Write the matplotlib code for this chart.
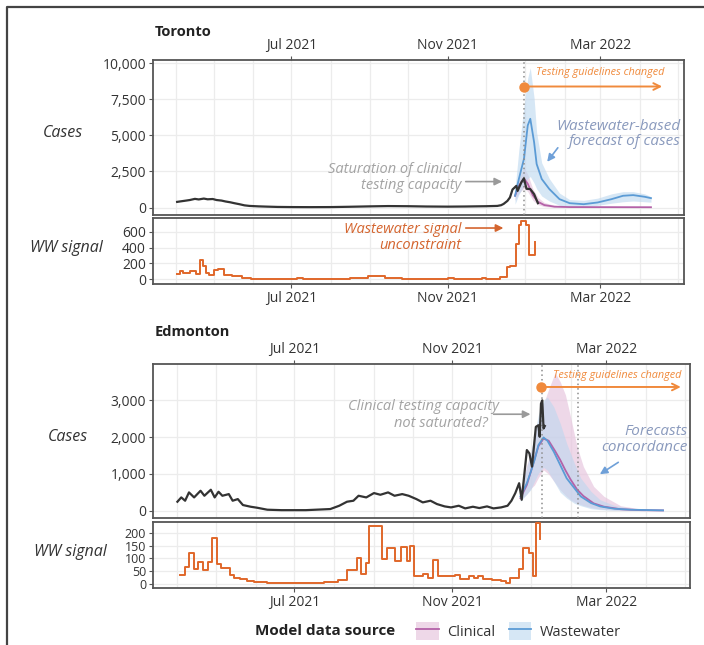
import numpy as np
import pandas as pd
import matplotlib
matplotlib.use('Agg')
import matplotlib.pyplot as plt
import matplotlib.dates as mdates
from matplotlib.patches import Patch
from matplotlib.lines import Line2D
from matplotlib.legend_handler import HandlerTuple
from matplotlib.ticker import FuncFormatter

plt.rcParams['font.family'] = ['Open Sans', 'DejaVu Sans']

# ---------------- Toronto data ----------------
tor_case_dates = ['2021-04-02', '2021-04-05', '2021-04-09', '2021-04-12', '2021-04-16', '2021-04-19',
                  '2021-04-23', '2021-04-26', '2021-04-30', '2021-05-03', '2021-05-07', '2021-05-10',
                  '2021-05-14', '2021-05-17', '2021-05-21', '2021-05-25', '2021-05-29', '2021-06-05',
                  '2021-06-12', '2021-06-20', '2021-07-01', '2021-07-15', '2021-08-01', '2021-08-15',
                  '2021-09-01', '2021-09-15', '2021-10-01', '2021-10-15', '2021-11-01', '2021-11-15',
                  '2021-12-01', '2021-12-10', '2021-12-13', '2021-12-15', '2021-12-18', '2021-12-20',
                  '2021-12-22', '2021-12-25', '2021-12-26', '2021-12-29', '2021-12-31', '2022-01-02',
                  '2022-01-05', '2022-01-08', '2022-01-11']
tor_cases = [390, 430, 480, 520, 600, 560, 620, 570, 590, 520, 480, 420, 360, 300, 230, 150, 110, 80,
             60, 40, 30, 25, 30, 50, 80, 100, 90, 70, 60, 70, 90, 110, 160, 250, 460, 700,
             1250, 1500, 1150, 1750, 2020, 1300, 1280, 930, 300]

tor_clin_dates = ['2021-12-24', '2021-12-27', '2021-12-31', '2022-01-03', '2022-01-07', '2022-01-11',
                  '2022-01-16', '2022-01-24', '2022-02-05', '2022-04-10']
tor_clin = [815, 1510, 2020, 1650, 850, 400, 170, 60, 30, 20]
tor_clin_lo = [500, 1000, 1350, 1100, 500, 200, 60, 10, 0, 0]
tor_clin_hi = [1100, 2000, 2800, 2300, 1300, 700, 350, 150, 80, 60]

tor_ww_dates = ['2021-12-24', '2021-12-27', '2021-12-31', '2022-01-03', '2022-01-05', '2022-01-08',
                '2022-01-10', '2022-01-14', '2022-01-20', '2022-01-28', '2022-02-05', '2022-02-16',
                '2022-02-27', '2022-03-10', '2022-03-19', '2022-03-27', '2022-04-05', '2022-04-10']
tor_ww = [815, 1980, 3370, 5700, 6160, 4535, 3020, 1980, 1280, 580, 300, 230, 350, 580, 815, 860, 745, 650]
tor_ww_hi = [1280, 4000, 7000, 9000, 9700, 7600, 5200, 3100, 2000, 1000, 550, 500, 650, 950, 1100, 1100, 950, 750]
tor_ww_lo = [230, 900, 1500, 2000, 2150, 1700, 1300, 800, 450, 150, 50, 60, 150, 300, 400, 450, 400, 370]

tor_sig_dates = ['2021-04-02', '2021-04-04', '2021-04-07', '2021-04-12', '2021-04-17', '2021-04-20',
                 '2021-04-22', '2021-04-25', '2021-04-27', '2021-05-01', '2021-05-04', '2021-05-09',
                 '2021-05-15', '2021-05-23', '2021-05-30', '2021-06-07', '2021-07-05', '2021-07-10',
                 '2021-08-16', '2021-08-30', '2021-09-13', '2021-09-26', '2021-11-01', '2021-11-06',
                 '2021-11-28', '2021-12-01', '2021-12-12', '2021-12-18', '2021-12-20', '2021-12-25',
                 '2021-12-27', '2021-12-29', '2022-01-02', '2022-01-04', '2022-01-09']
tor_sig = [68, 102, 75, 105, 70, 248, 164, 81, 60, 122, 135, 51, 39, 18, 10, 4, 14, 4,
           20, 40, 14, 7, 14, 7, 22, 7, 28, 160, 170, 445, 688, 738, 690, 303, 466]

# ---------------- Edmonton data ----------------
edm_case_dates = ['2021-04-01', '2021-04-04', '2021-04-07', '2021-04-10', '2021-04-14', '2021-04-19',
                  '2021-04-22', '2021-04-27', '2021-04-30', '2021-05-03', '2021-05-06', '2021-05-11',
                  '2021-05-14', '2021-05-18', '2021-05-22', '2021-05-28', '2021-06-02', '2021-06-10',
                  '2021-06-21', '2021-07-10', '2021-07-29', '2021-08-05', '2021-08-11', '2021-08-16',
                  '2021-08-20', '2021-08-26', '2021-09-01', '2021-09-06', '2021-09-12', '2021-09-17',
                  '2021-09-23', '2021-09-28', '2021-10-04', '2021-10-09', '2021-10-15', '2021-10-20',
                  '2021-10-26', '2021-10-31', '2021-11-06', '2021-11-11', '2021-11-17', '2021-11-22',
                  '2021-11-28', '2021-12-03', '2021-12-09', '2021-12-14', '2021-12-17', '2021-12-20',
                  '2021-12-23', '2021-12-25', '2021-12-29', '2021-12-31', '2022-01-02', '2022-01-05',
                  '2022-01-07', '2022-01-08', '2022-01-09', '2022-01-10', '2022-01-11', '2022-01-12']
edm_cases = [244, 361, 271, 497, 361, 542, 406, 569, 361, 515, 406, 451, 271, 316, 154, 108, 81, 27,
             15, 15, 45, 135, 244, 271, 406, 361, 479, 433, 497, 406, 451, 406, 316, 226, 271, 181,
             117, 90, 135, 63, 108, 72, 117, 63, 90, 135, 271, 477, 747, 297, 1647, 1557, 1197, 2277,
             2322, 2007, 2907, 2997, 2232, 2300]

edm_clin_dates = ['2021-12-24', '2021-12-29', '2022-01-01', '2022-01-04', '2022-01-07', '2022-01-11',
                  '2022-01-15', '2022-01-20', '2022-01-24', '2022-01-28', '2022-02-01', '2022-02-06',
                  '2022-02-11', '2022-02-19', '2022-02-27', '2022-03-12', '2022-03-28', '2022-04-14']
edm_clin = [342, 700, 1050, 1400, 1750, 1960, 1900, 1620, 1377, 1100, 850, 580, 400, 200, 110, 40, 15, 8]
edm_clin_hi = [567, 1250, 1557, 2050, 2450, 2907, 3300, 3750, 3500, 3150, 2550, 1750, 1200, 660, 390, 135, 45, 20]
edm_clin_lo = [297, 450, 600, 700, 900, 1107, 990, 760, 567, 420, 300, 200, 140, 70, 35, 10, 3, 2]

edm_ww_dates = ['2021-12-24', '2021-12-29', '2022-01-01', '2022-01-04', '2022-01-07', '2022-01-11',
                '2022-01-14', '2022-01-19', '2022-01-24', '2022-01-29', '2022-02-04', '2022-02-09',
                '2022-02-17', '2022-02-24', '2022-03-07', '2022-03-20', '2022-04-14']
edm_ww = [387, 747, 1050, 1377, 1782, 1990, 1900, 1600, 1240, 880, 612, 387, 207, 117, 54, 27, 9]
edm_ww_hi = [522, 1200, 1557, 2100, 2600, 3000, 3087, 2817, 2367, 1827, 1287, 882, 522, 297, 144, 63, 20]
edm_ww_lo = [252, 450, 567, 800, 1017, 1179, 1100, 800, 500, 342, 200, 135, 54, 30, 10, 5, 2]

edm_sig_dates = ['2021-04-03', '2021-04-07', '2021-04-10', '2021-04-14', '2021-04-17', '2021-04-21',
                 '2021-04-25', '2021-04-28', '2021-05-02', '2021-05-05', '2021-05-09', '2021-05-12',
                 '2021-05-15', '2021-05-20', '2021-05-25', '2021-05-31', '2021-06-10', '2021-06-30',
                 '2021-07-05', '2021-07-24', '2021-07-30', '2021-08-04', '2021-08-11', '2021-08-19',
                 '2021-08-22', '2021-08-26', '2021-08-28', '2021-09-07', '2021-09-11', '2021-09-17',
                 '2021-09-22', '2021-09-27', '2021-09-29', '2021-10-02', '2021-10-09', '2021-10-13',
                 '2021-10-17', '2021-10-21', '2021-10-24', '2021-10-30', '2021-11-03', '2021-11-07',
                 '2021-11-14', '2021-11-18', '2021-11-21', '2021-11-25', '2021-12-02', '2021-12-09',
                 '2021-12-13', '2021-12-16', '2021-12-23', '2021-12-26', '2021-12-31', '2022-01-03',
                 '2022-01-05', '2022-01-08']
edm_sig = [36, 67, 120, 59, 87, 56, 87, 179, 76, 60, 60, 36, 23, 19, 9, 5, 2, 3,
           2, 5, 8, 16, 53, 103, 40, 83, 227, 99, 140, 90, 143, 90, 147, 29, 40, 23,
           94, 32, 29, 29, 33, 19, 29, 23, 29, 19, 16, 9, 3, 23, 59, 139, 120, 32,
           240, 177]

# ---------------- styling ----------------
W, H = 704, 645
C_BLACK = '#333333'
C_BLUE = '#5b9bd5'
C_BLUE_BAND = '#bcd7ef'
C_PURPLE = '#b462a8'
C_PINK_BAND = '#e6c3dd'
C_SIG = '#e0672a'
C_ORANGE = '#f08a3c'
C_GRAY_TXT = '#a3a3a3'
C_BLUE_TXT = '#8a9abd'
C_SPINE = '#555555'
C_GRID = '#ececec'


def rect(x0, y0, x1, y1):
    return [x0 / W, 1 - y1 / H, (x1 - x0) / W, (y1 - y0) / H]


def dn(s):
    return mdates.date2num(pd.Timestamp(s))


tick_dates = pd.to_datetime(['2021-07-01', '2021-11-01', '2022-03-01'])
tick_labels = ['Jul 2021', 'Nov 2021', 'Mar 2022']
comma = FuncFormatter(lambda v, p: f'{int(round(v)):,}')


def style_axes(ax, xlim, top_labels, ysize=10):
    ax.set_xlim(pd.Timestamp(xlim[0]), pd.Timestamp(xlim[1]))
    ax.set_xticks(tick_dates)
    ax.xaxis.set_minor_locator(mdates.MonthLocator())
    ax.grid(True, which='both', axis='x', color=C_GRID, lw=0.9, zorder=0)
    ax.grid(True, which='major', axis='y', color=C_GRID, lw=0.9, zorder=0)
    ax.set_axisbelow(True)
    for s in ax.spines.values():
        s.set_color(C_SPINE)
        s.set_linewidth(1.3)
    ax.tick_params(which='minor', length=0)
    ax.tick_params(which='major', length=3, width=0.8, color=C_SPINE,
                   labelsize=10, labelcolor=C_BLACK, pad=2)
    ax.tick_params(axis='y', labelsize=ysize)
    if top_labels:
        ax.xaxis.tick_top()
    ax.set_xticklabels(tick_labels)
    ax.yaxis.set_major_formatter(comma)


fig = plt.figure(figsize=(W / 100, H / 100), dpi=100)

# outer frame of the figure panel
fig.add_artist(Line2D([7 / W, 7 / W, 1.0], [0.0, 1 - 7 / H, 1 - 7 / H],
                      transform=fig.transFigure, color='#444444', lw=1.6))

panels = [
    dict(name='Toronto', title_y=32, cases_rect=(153, 60, 684, 215), sig_rect=(153, 218, 684, 284),
         xlim=('2021-03-14', '2022-05-06'), case_ylim=(-520, 10240), case_ticks=[0, 2500, 5000, 7500, 10000],
         sig_ylim=(-58, 772), sig_ticks=[0, 200, 400, 600], sig_size=10,
         case_dates=tor_case_dates, cases=tor_cases,
         clin=(tor_clin_dates, tor_clin, tor_clin_lo, tor_clin_hi),
         ww=(tor_ww_dates, tor_ww, tor_ww_lo, tor_ww_hi),
         sig=(tor_sig_dates, tor_sig), vlines=['2021-12-31'],
         cases_lab=(63, 133), sig_lab=(66, 248)),
    dict(name='Edmonton', title_y=332, cases_rect=(153, 364, 690, 518), sig_rect=(153, 522, 690, 588),
         xlim=('2021-03-13', '2022-05-05'), case_ylim=(-198, 3984), case_ticks=[0, 1000, 2000, 3000],
         sig_ylim=(-17, 243.5), sig_ticks=[0, 50, 100, 150, 200], sig_size=9,
         case_dates=edm_case_dates, cases=edm_cases,
         clin=(edm_clin_dates, edm_clin, edm_clin_lo, edm_clin_hi),
         ww=(edm_ww_dates, edm_ww, edm_ww_lo, edm_ww_hi),
         sig=(edm_sig_dates, edm_sig), vlines=['2022-01-10', '2022-02-07'],
         cases_lab=(68, 437), sig_lab=(70, 552)),
]

axes = {}
for p in panels:
    ax = fig.add_axes(rect(*p['cases_rect']))
    ax2 = fig.add_axes(rect(*p['sig_rect']))
    axes[p['name']] = (ax, ax2)

    cd, cm, clo, chi = p['clin']
    cd = pd.to_datetime(cd)
    ax.fill_between(cd, clo, chi, color=C_PINK_BAND, alpha=0.65, lw=0, zorder=2)
    wd, wm, wlo, whi = p['ww']
    wd = pd.to_datetime(wd)
    ax.fill_between(wd, wlo, whi, color=C_BLUE_BAND, alpha=0.6, lw=0, zorder=2)
    ax.plot(cd, cm, color=C_PURPLE, lw=1.3, zorder=3)
    ax.plot(wd, wm, color=C_BLUE, lw=1.3, zorder=3)
    ax.plot(pd.to_datetime(p['case_dates']), p['cases'], color=C_BLACK, lw=1.6, zorder=4)
    for v in p['vlines']:
        ax.axvline(pd.Timestamp(v), color='#8c8c8c', lw=1.1, ls=(0, (1, 2)), zorder=3)

    ax.set_ylim(*p['case_ylim'])
    ax.set_yticks(p['case_ticks'])
    style_axes(ax, p['xlim'], True)

    sd, sv = p['sig']
    ax2.step(pd.to_datetime(sd), sv, where='post', color=C_SIG, lw=1.4, zorder=3)
    ax2.set_ylim(*p['sig_ylim'])
    ax2.set_yticks(p['sig_ticks'])
    style_axes(ax2, p['xlim'], False, ysize=p['sig_size'])

    fig.text(155 / W, 1 - p['title_y'] / H, p['name'], fontsize=10.5, fontweight='bold',
             color='#222222', ha='left', va='center')
    fig.text(p['cases_lab'][0] / W, 1 - p['cases_lab'][1] / H, 'Cases', fontsize=11.5,
             style='italic', color=C_BLACK, ha='center', va='center')
    fig.text(p['sig_lab'][0] / W, 1 - p['sig_lab'][1] / H, 'WW signal', fontsize=11.5,
             style='italic', color=C_BLACK, ha='center', va='center')

# ---------------- annotations: Toronto ----------------
ax, ax2 = axes['Toronto']
ax.plot(dn('2021-12-31'), 8400, 'o', color=C_ORANGE, ms=6.5, zorder=6, clip_on=False)
ax.annotate('', xy=(dn('2022-04-21'), 8400), xytext=(dn('2021-12-31'), 8400),
            arrowprops=dict(arrowstyle='->', color=C_ORANGE, lw=1.4, mutation_scale=12), zorder=6)
ax.text(dn('2022-03-01'), 9380, 'Testing guidelines changed', color=C_ORANGE, fontsize=7.8,
        style='italic', ha='center', va='center', zorder=6)
ax.text(dn('2021-11-12'), 2080, 'Saturation of clinical\ntesting capacity', color=C_GRAY_TXT,
        fontsize=10.5, style='italic', ha='right', va='center', linespacing=1.05, zorder=6)
ax.annotate('', xy=(dn('2021-12-16'), 1800), xytext=(dn('2021-11-13'), 1800),
            arrowprops=dict(arrowstyle='-|>', color='#9a9a9a', lw=1.2, mutation_scale=11), zorder=6)
ax.text(dn('2022-05-03'), 5100, 'Wastewater-based\nforecast of cases', color=C_BLUE_TXT,
        fontsize=11, style='italic', ha='right', va='center', linespacing=1.05, zorder=6)
ax.annotate('', xy=(dn('2022-01-17'), 3020), xytext=(dn('2022-01-28'), 4300),
            arrowprops=dict(arrowstyle='-|>', color='#6fa0d8', lw=1.2, mutation_scale=11), zorder=6)

ax2.text(dn('2021-11-12'), 530, 'Wastewater signal\nunconstraint', color='#d4652f',
         fontsize=10.5, style='italic', ha='right', va='center', linespacing=1.1, zorder=6)
ax2.annotate('', xy=(dn('2021-12-17'), 646), xytext=(dn('2021-11-13'), 646),
             arrowprops=dict(arrowstyle='-|>', color='#d4652f', lw=1.2, mutation_scale=11), zorder=6)

# ---------------- annotations: Edmonton ----------------
ax, ax2 = axes['Edmonton']
ax.plot(dn('2022-01-09'), 3360, 'o', color=C_ORANGE, ms=6.5, zorder=6, clip_on=False)
ax.annotate('', xy=(dn('2022-04-30'), 3360), xytext=(dn('2022-01-09'), 3360),
            arrowprops=dict(arrowstyle='->', color=C_ORANGE, lw=1.4, mutation_scale=12), zorder=6)
ax.text(dn('2022-03-09'), 3660, 'Testing guidelines changed', color=C_ORANGE, fontsize=7.8,
        style='italic', ha='center', va='center', zorder=6)
ax.text(dn('2021-12-07'), 2840, 'Clinical testing capacity', color=C_GRAY_TXT,
        fontsize=10.5, style='italic', ha='right', va='center', zorder=6)
ax.text(dn('2021-11-29'), 2380, 'not saturated?', color=C_GRAY_TXT,
        fontsize=10.5, style='italic', ha='right', va='center', zorder=6)
ax.annotate('', xy=(dn('2022-01-03'), 2620), xytext=(dn('2021-12-01'), 2620),
            arrowprops=dict(arrowstyle='-|>', color='#9a9a9a', lw=1.2, mutation_scale=11), zorder=6)
ax.text(dn('2022-05-03'), 1930, 'Forecasts\nconcordance', color=C_BLUE_TXT,
        fontsize=11, style='italic', ha='right', va='center', linespacing=1.05, zorder=6)
ax.annotate('', xy=(dn('2022-02-22'), 950), xytext=(dn('2022-03-12'), 1355),
            arrowprops=dict(arrowstyle='-|>', color='#6fa0d8', lw=1.2, mutation_scale=11), zorder=6)

# ---------------- legend ----------------
fig.text(255 / W, 1 - 631 / H, 'Model data source', fontsize=11, fontweight='bold',
         color='#222222', ha='left', va='center')
handles = [(Patch(facecolor=C_PINK_BAND, alpha=0.65, edgecolor='none'), Line2D([], [], color=C_PURPLE, lw=1.3)),
           (Patch(facecolor=C_BLUE_BAND, alpha=0.6, edgecolor='none'), Line2D([], [], color=C_BLUE, lw=1.3))]
fig.legend(handles, ['Clinical', 'Wastewater'], handler_map={tuple: HandlerTuple(ndivide=1, pad=0)},
           ncol=2, frameon=False, loc='center left', bbox_to_anchor=(416 / W, 1 - 631 / H),
           handlelength=1.55, handleheight=1.55, columnspacing=0.9, handletextpad=0.6,
           fontsize=10.5, labelcolor=C_BLACK, borderaxespad=0, borderpad=0)

fig.savefig('out.png', dpi=100)
